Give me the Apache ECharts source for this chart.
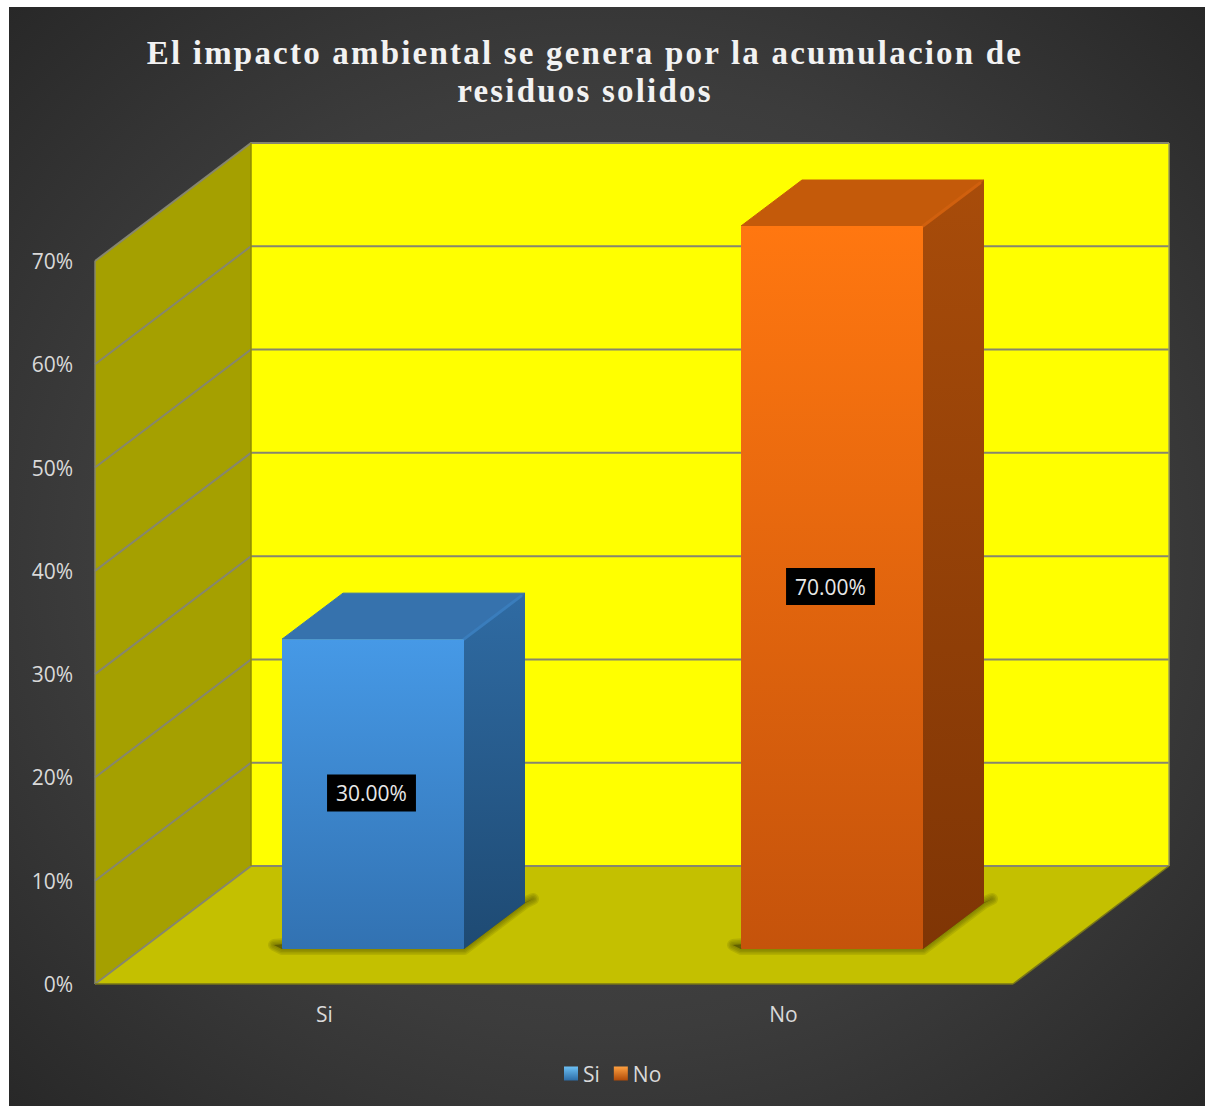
<!DOCTYPE html>
<html>
<head>
<meta charset="utf-8">
<script src="https://cdn.jsdelivr.net/npm/echarts@6/dist/echarts.min.js"></script>
<style>
  html, body { margin: 0; background: #fff; }
  #chart { position: absolute; left: 9px; top: 7px; width: 1196px; height: 1099px; }
  /* title letter spacing, echarts has no option for it */
  #chart text[style*="Liberation Serif"] { letter-spacing: 2.2px; }
</style>
</head>
<body>
<div id="chart"></div>
<script>
var titleText = "El impacto ambiental se genera por la acumulacion de\nresiduos solidos";
var categories = ["Si", "No"];
var siValues = [[0, 30]];
var noValues = [[1, 70]];
var yTicks = [0, 10, 20, 30, 40, 50, 60, 70];

var wallDx = 156, wallDy = 118;    // depth of the whole box
var barDx = 61, barDy = 46;        // depth of one bar
var barShiftX = 48.5, barShiftY = 35; // bars stand inside the floor
var barW = 182;

var font = '"Open Sans", sans-serif';
var G = echarts.graphic;

function vgrad(a, b) {
  return new G.LinearGradient(0, 0, 0, 1, [{ offset: 0, color: a }, { offset: 1, color: b }]);
}
function poly(points, fill, stroke, lw) {
  return { type: "polygon", shape: { points: points }, style: { fill: fill, stroke: stroke || null, lineWidth: lw || 0, lineJoin: "round" } };
}

function renderBox(params, api) {
  var band = api.size([1, 0])[0];
  var x0 = api.coord([0, 0])[0] - band / 2;
  var x1 = api.coord([1, 0])[0] + band / 2;
  var y0 = api.coord([0, 0])[1];
  var yTop = api.coord([0, yTicks[yTicks.length - 1]])[1];
  var kids = [
    poly([[x0 + wallDx, yTop - wallDy], [x1 + wallDx, yTop - wallDy], [x1 + wallDx, y0 - wallDy], [x0 + wallDx, y0 - wallDy]], "#ffff00"),
    poly([[x0, yTop], [x0 + wallDx, yTop - wallDy], [x0 + wallDx, y0 - wallDy], [x0, y0]], "#a5a000"),
    poly([[x0, y0], [x0 + wallDx, y0 - wallDy], [x1 + wallDx, y0 - wallDy], [x1, y0]], "#c4c000")
  ];
  yTicks.forEach(function (v) {
    var y = api.coord([0, v])[1];
    kids.push({
      type: "polyline",
      shape: { points: [[x0, y], [x0 + wallDx, y - wallDy], [x1 + wallDx, y - wallDy]] },
      style: { fill: null, stroke: "#86866e", lineWidth: 2 }
    });
  });
  // edges of the box
  kids.push({ type: "line", shape: { x1: x0, y1: yTop, x2: x0, y2: y0 }, style: { stroke: "#86866e", lineWidth: 1.5 } });
  kids.push({ type: "line", shape: { x1: x0 + wallDx, y1: yTop - wallDy, x2: x0 + wallDx, y2: y0 - wallDy }, style: { stroke: "#8f8c00", lineWidth: 1.5 } });
  kids.push({ type: "line", shape: { x1: x1 + wallDx, y1: yTop - wallDy, x2: x1 + wallDx, y2: y0 - wallDy }, style: { stroke: "#a0a050", lineWidth: 1.5 } });
  kids.push({ type: "line", shape: { x1: x0, y1: y0, x2: x1, y2: y0 }, style: { stroke: "#77751a", lineWidth: 1.5 } });
  kids.push({ type: "line", shape: { x1: x1, y1: y0, x2: x1 + wallDx, y2: y0 - wallDy }, style: { stroke: "#77751a", lineWidth: 1.5 } });
  return { type: "group", children: kids };
}

function makeBar(front, side, top, bevel) {
  return function (params, api) {
    var base = api.coord([api.value(0), 0]);
    var head = api.coord([api.value(0), api.value(1)]);
    var xl = base[0] + barShiftX - barW / 2;
    var xr = xl + barW;
    var yb = base[1] - barShiftY;
    var yt = head[1] - barShiftY;
    var kids = [];
    // soft floor shadow, stacked strokes because it stays behind the bar
    var shadowPts = [[xl - 8, yb - 4], [xl, yb], [xr, yb], [xr + barDx, yb - barDy], [xr + barDx + 8, yb - barDy - 4], [xr, yb - 20]];
    [12, 9, 6, 3].forEach(function (w) {
      kids.push(poly(shadowPts, "rgba(70,68,0,0.2)", "rgba(70,68,0,0.14)", w));
    });
    kids.push(
      poly([[xl, yt], [xl + barDx, yt - barDy], [xr + barDx, yt - barDy], [xr, yt]], top, top, 1),
      poly([[xr, yt], [xr + barDx, yt - barDy], [xr + barDx, yb - barDy], [xr, yb]], side, null, 0),
      { type: "line", shape: { x1: xr, y1: yt, x2: xr + barDx - 4, y2: yt - barDy + 3 }, style: { stroke: bevel, lineWidth: 3, lineCap: "round" } },
      poly([[xl + 1, yt + 1], [xr - 1, yt + 1], [xr - 1, yb - 1], [xl + 1, yb - 1]], front, front, 2),
      {
        type: "text",
        style: {
          x: (xl + xr) / 2 - 1.5,
          y: (yt + yb) / 2 - 1,
          text: api.value(1).toFixed(2) + "%",
          align: "center",
          verticalAlign: "middle",
          fill: "#e8e8e8",
          font: "21px " + font,
          backgroundColor: "#000",
          padding: [8, 9]
        }
      }
    );
    return { type: "group", children: kids };
  };
}

var chart = echarts.init(document.getElementById("chart"), null, { renderer: "svg" });
chart.setOption({
  animation: false,
  backgroundColor: new G.RadialGradient(0.5, 0.5, 0.72, [
    { offset: 0, color: "#505050" },
    { offset: 0.6, color: "#3c3c3c" },
    { offset: 1, color: "#272727" }
  ]),
  title: {
    text: titleText,
    left: 571,
    top: 22,
    textAlign: "center",
    textStyle: {
      color: "#f2f2f2",
      fontFamily: '"Liberation Serif", serif',
      fontWeight: "bold",
      fontSize: 33,
      lineHeight: 38
    }
  },
  legend: {
    left: 550,
    top: 1051,
    itemWidth: 14,
    itemHeight: 14,
    itemGap: 14,
    itemStyle: { borderWidth: 0 },
    textStyle: { color: "#d9d9d9", fontFamily: font, fontSize: 21 },
    data: [
      { name: "Si", icon: "rect", itemStyle: { color: vgrad("#6cc0f5", "#2c6ca6") } },
      { name: "No", icon: "rect", itemStyle: { color: vgrad("#ffa040", "#b04a08") } }
    ]
  },
  grid: { left: 86, top: 254, width: 918, height: 723, containLabel: false },
  xAxis: {
    type: "category",
    data: categories,
    axisLine: { show: false },
    axisTick: { show: false },
    axisLabel: { color: "#d9d9d9", fontFamily: font, fontSize: 21, margin: 19 }
  },
  yAxis: {
    type: "value",
    min: 0,
    max: 70,
    interval: 10,
    axisLine: { show: false },
    axisTick: { show: false },
    splitLine: { show: false },
    axisLabel: { formatter: "{value}%", color: "#d9d9d9", fontFamily: font, fontSize: 21, margin: 22, padding: [2, 0, 0, 0] }
  },
  series: [
    { type: "custom", name: "box", z: 1, silent: true, clip: false, data: [[0, 0]], encode: { x: 0, y: 1 }, renderItem: renderBox },
    {
      type: "custom", name: "Si", z: 3, clip: false, data: siValues, encode: { x: 0, y: 1 },
      renderItem: makeBar(vgrad("#4699e6", "#3272b2"), vgrad("#2f6ba3", "#1e4a73"), "#3672ad", "#3a7dbc")
    },
    {
      type: "custom", name: "No", z: 3, clip: false, data: noValues, encode: { x: 0, y: 1 },
      renderItem: makeBar(vgrad("#ff7710", "#c5530b"), vgrad("#a84c0a", "#7f3505"), "#c45a0a", "#d0600e")
    }
  ]
});
</script>
</body>
</html>
